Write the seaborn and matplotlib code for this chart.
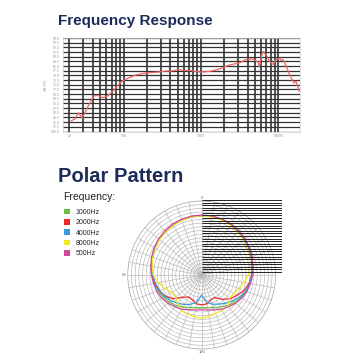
import numpy as np
import pandas as pd
import matplotlib
matplotlib.use("Agg")
import matplotlib.pyplot as plt
from matplotlib.patches import Patch
import seaborn as sns

# frequency response curve (Hz, dB)
freqs = [21, 24, 26, 28, 29.5, 31, 34, 38, 41, 46, 51, 55, 62, 68, 75, 79, 87, 96, 117, 143,
         174, 211, 284, 345, 421, 512, 624, 722, 971, 1300, 1750, 2350, 3160, 3850, 4690,
         5430, 5700, 6000, 6330, 7020, 7670, 8500, 9420, 10300, 10900, 11400, 12600, 13800,
         15200, 16000, 16900, 17700, 18600]
levels = [55.7, 56.9, 60.1, 58.3, 57.4, 59.2, 62.8, 66.3, 69.0, 69.3, 68.5, 68.1, 69.0, 70.4,
          72.2, 73.4, 75.2, 77.0, 78.7, 80.2, 81.0, 81.4, 81.8, 82.3, 82.4, 83.1, 82.6, 82.6,
          81.8, 82.1, 83.5, 85.6, 86.7, 88.6, 88.8, 87.2, 84.6, 89.9, 92.8, 90.7, 87.6, 85.9,
          88.6, 89.2, 88.0, 88.6, 84.8, 80.9, 77.3, 75.9, 76.9, 74.2, 71.5]

# polar pattern, relative radius per angle (deg, counter-clockwise from top)
angles = list(range(0, 361, 10))
r_500 = [.81, .808, .80, .79, .776, .76, .74, .72, .70, .68, .66, .645, .625, .595, .56, .535,
         .50, .48, .47, .48, .50, .535, .56, .595, .625, .65, .67, .69, .705, .725, .745, .765,
         .78, .795, .805, .81, .81]
r_1000 = [.80, .798, .79, .78, .766, .75, .73, .71, .688, .665, .645, .625, .60, .57, .54, .50,
          .47, .45, .44, .45, .47, .50, .54, .575, .61, .64, .66, .68, .695, .715, .735, .755,
          .77, .785, .795, .80, .80]
r_2000 = [.805, .803, .795, .785, .771, .754, .734, .713, .69, .668, .645, .61, .57, .50, .39,
          .345, .36, .395, .405, .395, .36, .35, .43, .50, .55, .61, .65, .675, .695, .715,
          .735, .755, .775, .79, .80, .805, .805]
r_4000 = [.80, .798, .79, .78, .766, .75, .73, .71, .688, .665, .635, .61, .58, .54, .50, .46,
          .42, .37, .27, .37, .42, .455, .50, .545, .595, .635, .66, .68, .695, .715, .735,
          .755, .77, .785, .795, .80, .80]
r_8000 = [.80, .795, .785, .775, .76, .745, .725, .705, .68, .655, .595, .53, .47, .462, .50,
          .555, .562, .57, .583, .57, .55, .55, .555, .49, .50, .53, .58, .63, .66, .69, .71,
          .735, .755, .775, .79, .797, .80]

series_names = ["1000Hz", "2000Hz", "4000Hz", "8000Hz", "500Hz"]
series_r = [r_1000, r_2000, r_4000, r_8000, r_500]
series_colors = ["#6cbd45", "#ee2b2b", "#3b9cdc", "#f5e823", "#d14b9d"]

sns.set_style("white")
plt.rcParams["font.family"] = ["Liberation Sans", "DejaVu Sans"]

W = 360.0
fig = plt.figure(figsize=(3.6, 3.6), dpi=100)
navy = "#1c2b5a"

fig.text(58 / W, 1 - 24.5 / W, "Frequency Response", fontsize=11, fontweight="bold",
         color=navy, va="baseline", ha="left")
fig.text(58 / W, 1 - 182 / W, "Polar Pattern", fontsize=14.5, fontweight="bold",
         color=navy, va="baseline", ha="left")

# --- frequency response ---
ax = fig.add_axes([63 / W, 1 - 131.5 / W, 237 / W, 93.5 / W])
df = pd.DataFrame({"freq": freqs, "db": levels})
sns.lineplot(data=df, x="freq", y="db", ax=ax, color="#f26464", lw=0.9)
ax.set_xscale("log")
ax.set_xlim(16.5, 19000)
ax.set_ylim(50, 100)
grid_f = list(range(20, 100, 10)) + list(range(100, 1000, 100)) + list(range(1000, 10001, 1000))
ax.set_xticks([20, 100, 1000, 10000])
ax.set_xticklabels(["20", "100", "1000", "10000"])
ax.set_xticks(grid_f, minor=True)
ax.set_xticklabels([], minor=True)
ax.set_yticks(np.arange(50, 100.1, 2.5))
ax.set_yticklabels([f"{v:.1f}" for v in np.arange(50, 100.1, 2.5)][::-1])
ax.grid(which="both", axis="x", color="#222222", lw=1.1)
ax.grid(which="major", axis="y", color="#333333", lw=0.9)
ax.tick_params(which="both", length=0, labelsize=2.5, labelcolor="#999999", pad=2)
ax.set_xlabel("")
ax.set_ylabel("dB SPL", fontsize=2.5, color="#999999", labelpad=2)
for s in ax.spines.values():
    s.set_color("#cccccc")
    s.set_linewidth(0.5)

# --- polar pattern ---
cx, cy, rad = 201.7, 275, 74
pax = fig.add_axes([(cx - rad) / W, 1 - (cy + rad) / W, 2 * rad / W, 2 * rad / W],
                   projection="polar")
pax.set_theta_zero_location("N")
pax.set_theta_direction(1)
theta = np.deg2rad(angles)
for name, rr, col in zip(series_names, series_r, series_colors):
    sns.lineplot(x=theta, y=rr, ax=pax, sort=False, color=col, lw=0.9, legend=False)
pax.set_rlim(0, 1)
pax.set_rticks(np.linspace(0.05, 1, 20))
pax.set_yticklabels([])
tlabels = {0: "0", 90: "90", 180: "180"}
pax.set_thetagrids(range(0, 360, 10), labels=[tlabels.get(a, "") for a in range(0, 360, 10)],
                   fontsize=3, color="#666666")
pax.xaxis.set_tick_params(pad=-8)
pax.grid(color="#b5b5b5", lw=0.45)
pax.spines["polar"].set_color("#b0b0b0")
pax.spines["polar"].set_linewidth(0.5)
pax.set_xlabel("")
pax.set_ylabel("")

# stray horizontal rules over the upper right quadrant
oax = fig.add_axes([cx / W, 1 - 274.5 / W, (282 - cx) / W, (274.5 - 200) / W])
oax.axis("off")
oax.set_xlim(0, 1)
oax.set_ylim(0, 1)
oax.hlines(np.linspace(0, 1, 30), 0, 1, color="#222222", lw=0.7)

# legend
fig.text(63 / W, 1 - 197 / W, "Frequency:", fontsize=7.5, color="#222222", va="center")
handles = [Patch(facecolor=c, edgecolor="none") for c in series_colors]
fig.legend(handles, series_names, loc="upper left", bbox_to_anchor=(64 / W, 1 - 208.5 / W),
           frameon=False, fontsize=5, handlelength=0.9, handleheight=0.9,
           labelspacing=0.45, handletextpad=0.8, borderaxespad=0, borderpad=0)

fig.savefig("out.png", dpi=100)
